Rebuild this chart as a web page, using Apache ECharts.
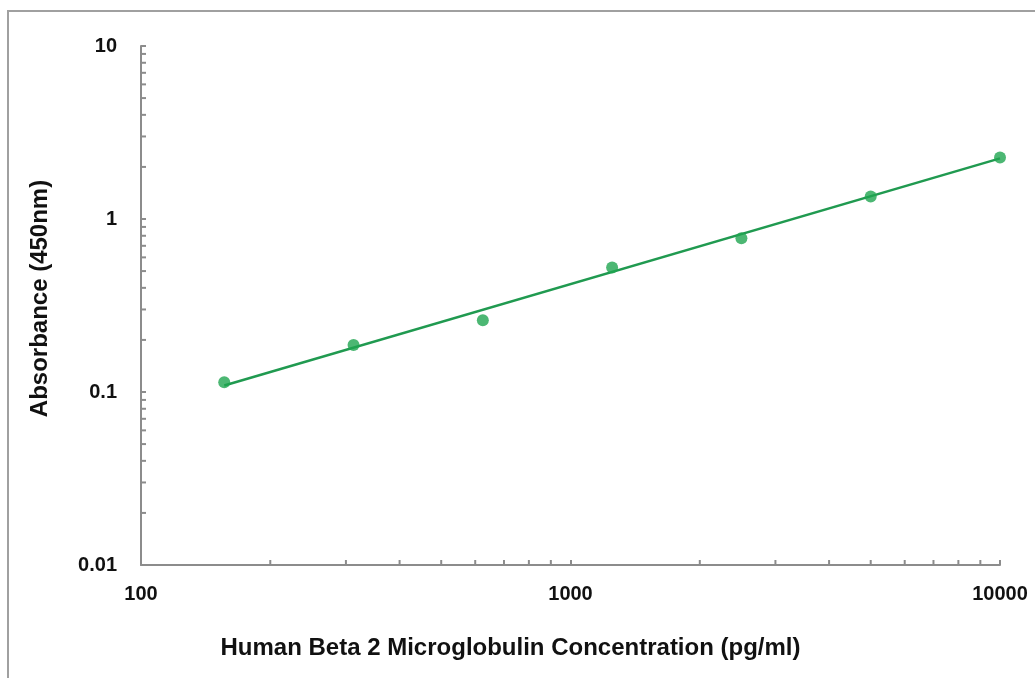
<!DOCTYPE html>
<html>
<head>
<meta charset="utf-8">
<script src="https://cdn.jsdelivr.net/npm/echarts@6/dist/echarts.min.js"></script>
<style>
html,body{margin:0;padding:0;background:#fff;}
#chart{width:1035px;height:678px;}
</style>
</head>
<body>
<div id="chart"></div>
<script>
// Data
const concentrations = [156.25, 312.5, 625, 1250, 2500, 5000, 10000];
const absorbance = [0.114, 0.187, 0.26, 0.525, 0.775, 1.35, 2.27];
const trendLine = [[156.25, 0.109], [10000, 2.24]];
const xTickLabels = ['100', '1000', '10000'];
const yTickLabels = ['0.01', '0.1', '1', '10'];
const xMinorTicks = [200, 300, 400, 500, 600, 700, 800, 900, 2000, 3000, 4000, 5000, 6000, 7000, 8000, 9000];
const yMinorTicks = [0.02, 0.03, 0.04, 0.05, 0.06, 0.07, 0.08, 0.09, 0.2, 0.3, 0.4, 0.5, 0.6, 0.7, 0.8, 0.9, 2, 3, 4, 5, 6, 7, 8, 9];
const xTitle = 'Human Beta 2 Microglobulin Concentration (pg/ml)';
const yTitle = 'Absorbance (450nm)';

const GREEN = '#1fa550';
const LINE_GREEN = '#209a50';
const AXIS = '#8c8c8c';
const FONT = '"Liberation Sans", Arial, sans-serif';

function fmt(labels) {
  return function (v) {
    for (const l of labels) {
      if (Math.abs(Math.log10(v) - Math.log10(parseFloat(l))) < 1e-6) return l;
    }
    return '';
  };
}

const chart = echarts.init(document.getElementById('chart'));
chart.setOption({
  animation: false,
  backgroundColor: '#fff',
  graphic: [{
    type: 'rect',
    shape: { x: 8, y: 11, width: 1100, height: 700 },
    style: { fill: 'none', stroke: '#a0a0a0', lineWidth: 2 },
    silent: true
  }],
  grid: { left: 141, right: 35, top: 46, bottom: 113, containLabel: false },
  xAxis: {
    type: 'log', logBase: 10, min: 100, max: 10000,
    name: xTitle, nameLocation: 'middle', nameGap: 71,
    nameTextStyle: { fontFamily: FONT, fontWeight: 'bold', fontSize: 24, color: '#111', padding: [0, 120, 0, 0] },
    axisLine: { show: true, lineStyle: { color: AXIS, width: 2 } },
    axisTick: { show: true, inside: true, length: 5, lineStyle: { color: AXIS, width: 2 } },
    axisLabel: { formatter: fmt(xTickLabels), fontFamily: FONT, fontWeight: 'bold', fontSize: 20, color: '#111', margin: 19 },
    splitLine: { show: false }
  },
  yAxis: {
    type: 'log', logBase: 10, min: 0.01, max: 10,
    name: yTitle, nameLocation: 'middle', nameGap: 89, nameRotate: 90,
    nameTextStyle: { fontFamily: FONT, fontWeight: 'bold', fontSize: 24, color: '#111', padding: [0, 0, 0, 14] },
    axisLine: { show: true, lineStyle: { color: AXIS, width: 2 } },
    axisTick: { show: true, inside: true, length: 5, lineStyle: { color: AXIS, width: 2 } },
    axisLabel: { formatter: fmt(yTickLabels), fontFamily: FONT, fontWeight: 'bold', fontSize: 20, color: '#111', margin: 24 },
    splitLine: { show: false }
  },
  series: [
    {
      type: 'custom',
      silent: true,
      clip: false,
      data: xMinorTicks.map(v => [v, 0.01]),
      renderItem: function (params, api) {
        const p = api.coord([api.value(0), api.value(1)]);
        return { type: 'line', shape: { x1: p[0], y1: p[1], x2: p[0], y2: p[1] - 5 }, style: { stroke: AXIS, lineWidth: 2 } };
      },
      z: 1
    },
    {
      type: 'custom',
      silent: true,
      clip: false,
      data: yMinorTicks.map(v => [100, v]),
      renderItem: function (params, api) {
        const p = api.coord([api.value(0), api.value(1)]);
        return { type: 'line', shape: { x1: p[0], y1: p[1], x2: p[0] + 5, y2: p[1] }, style: { stroke: AXIS, lineWidth: 2 } };
      },
      z: 1
    },
    {
      type: 'line',
      data: trendLine,
      symbol: 'none',
      lineStyle: { color: LINE_GREEN, width: 2.5 },
      z: 2
    },
    {
      type: 'scatter',
      data: concentrations.map((c, i) => [c, absorbance[i]]),
      symbol: 'circle',
      symbolSize: 12,
      itemStyle: { color: GREEN },
      z: 3
    }
  ]
});
</script>
</body>
</html>
